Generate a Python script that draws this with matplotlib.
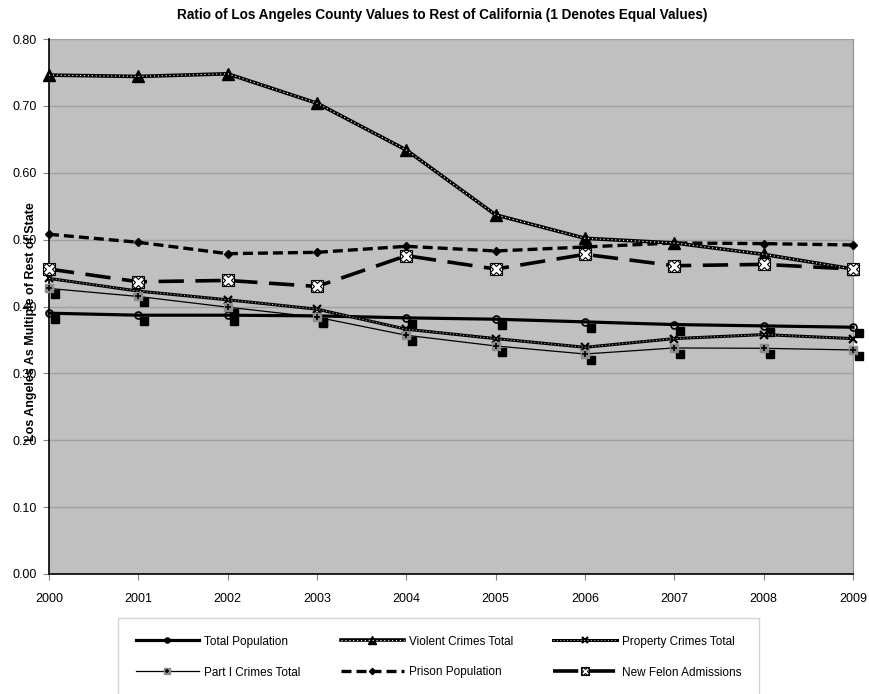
import matplotlib
matplotlib.use('Agg')
import matplotlib.pyplot as plt
import matplotlib.transforms as mtransforms

plt.rcParams['font.family'] = ['Liberation Sans', 'DejaVu Sans']

years = [2000, 2001, 2002, 2003, 2004, 2005, 2006, 2007, 2008, 2009]
total_population = [0.390, 0.387, 0.387, 0.386, 0.383, 0.381, 0.377, 0.373, 0.371, 0.369]
violent_crimes = [0.746, 0.744, 0.748, 0.704, 0.634, 0.537, 0.502, 0.495, 0.478, 0.456]
property_crimes = [0.442, 0.423, 0.410, 0.396, 0.366, 0.352, 0.339, 0.352, 0.358, 0.352]
part1_crimes = [0.427, 0.415, 0.399, 0.384, 0.357, 0.341, 0.329, 0.338, 0.3375, 0.335]
prison_population = [0.508, 0.496, 0.479, 0.481, 0.490, 0.483, 0.489, 0.495, 0.494, 0.492]
new_felon_admissions = [0.456, 0.437, 0.439, 0.430, 0.476, 0.456, 0.478, 0.461, 0.463, 0.456]

yticks = [0.0, 0.1, 0.2, 0.3, 0.4, 0.5, 0.6, 0.7, 0.8]

fig = plt.figure(figsize=(8.69, 6.94), dpi=100)
ax = fig.add_axes([49 / 869, 1 - 574 / 694, 804 / 869, 535 / 694])
ax.set_facecolor('#C0C0C0')

# drop shadows under the population / part I markers
shadow = mtransforms.offset_copy(ax.transData, fig=fig, x=6, y=-6, units='dots')
for vals in (total_population, part1_crimes):
    ax.plot(years, vals, linestyle='none', marker='s', markersize=5.5,
            color='black', transform=shadow, clip_on=False, zorder=2)

h_pop, = ax.plot(years, total_population, color='black', lw=2.3, marker='o',
                 markersize=5, markerfacecolor='none', markeredgecolor='black',
                 markeredgewidth=1.2, clip_on=False, zorder=3)

h_vio, = ax.plot(years, violent_crimes, color='black', lw=2.6, marker='^',
                 markersize=9, clip_on=False, zorder=3)
h_vio2, = ax.plot(years, violent_crimes, color='white', lw=0.8,
                  linestyle=(0, (1, 2.5)), clip_on=False, zorder=3.1)

h_prop, = ax.plot(years, property_crimes, color='black', lw=2.2, marker='x',
                  markersize=6, markeredgewidth=1.6, clip_on=False, zorder=3)
h_prop2, = ax.plot(years, property_crimes, color='#D0D0D0', lw=0.7,
                   linestyle=(0, (1, 2.5)), clip_on=False, zorder=3.1)

h_p1, = ax.plot(years, part1_crimes, color='black', lw=0.9, marker='s',
                markersize=5.5, markerfacecolor='#8C8C8C', markeredgecolor='#8C8C8C',
                clip_on=False, zorder=3)
h_p1b, = ax.plot(years, part1_crimes, linestyle='none', marker='+',
                 markersize=4.5, markeredgewidth=1.2, color='black',
                 clip_on=False, zorder=3.1)

h_pri, = ax.plot(years, prison_population, color='black', lw=2.4,
                 linestyle=(0, (3.0, 1.5)), marker='D', markersize=4.5,
                 clip_on=False, zorder=3)

h_fel, = ax.plot(years, new_felon_admissions, color='black', lw=2.6,
                 linestyle=(0, (7, 3.2)), marker='s', markersize=9,
                 markerfacecolor='white', markeredgecolor='black',
                 markeredgewidth=0.8, clip_on=False, zorder=4)
h_fel2, = ax.plot(years, new_felon_admissions, linestyle='none', marker='X',
                  markersize=9, markerfacecolor='white', markeredgecolor='black',
                  markeredgewidth=0.8, clip_on=False, zorder=4.1)

ax.set_xlim(2000, 2009)
ax.set_ylim(0, 0.8)
ax.set_xticks(years)
ax.set_yticks(yticks)
ax.set_yticklabels(['%.2f' % v for v in yticks])
ax.yaxis.grid(True, color='#A0A0A0', lw=1)
ax.set_axisbelow(True)
ax.tick_params(axis='y', length=4, color='#808080', pad=5, labelsize=9)
ax.tick_params(axis='x', length=4, color='#808080', pad=10, labelsize=9)
ax.spines['left'].set_color('black')
ax.spines['left'].set_linewidth(1.2)
ax.spines['bottom'].set_color('black')
ax.spines['bottom'].set_linewidth(1.2)
ax.spines['right'].set_color('#909090')
ax.spines['top'].set_visible(False)

fig.text(442 / 869, 1 - 15 / 694,
         'Ratio of Los Angeles County Values to Rest of California (1 Denotes Equal Values)',
         ha='center', va='center', fontsize=9.8, fontweight='bold')
fig.text(31 / 869, 1 - 322 / 694, 'Los Angeles As Multiple of Rest of State',
         rotation=90, ha='center', va='center', fontsize=9, fontweight='bold')

handles = [h_pop, (h_vio, h_vio2), (h_prop, h_prop2), (h_p1, h_p1b), h_pri, (h_fel, h_fel2)]
labels = ['Total Population', 'Violent Crimes Total', 'Property Crimes Total',
          'Part I Crimes Total', 'Prison Population', 'New Felon Admissions']
# legend fills column by column, so reorder to read row-wise
order = [0, 3, 1, 4, 2, 5]
leg = fig.legend([handles[i] for i in order], [labels[i] for i in order],
                 ncol=3, loc='upper left', bbox_to_anchor=(112 / 869, 1 - 612 / 694),
                 fontsize=8.5, numpoints=1, handlelength=5.4, handletextpad=0.4,
                 columnspacing=3.4, labelspacing=1.6, borderpad=1.5,
                 fancybox=False, frameon=True, markerscale=0.7)
leg.get_frame().set_edgecolor('#C8C8C8')
leg.get_frame().set_linewidth(1)

fig.savefig('out.png', dpi=100)
